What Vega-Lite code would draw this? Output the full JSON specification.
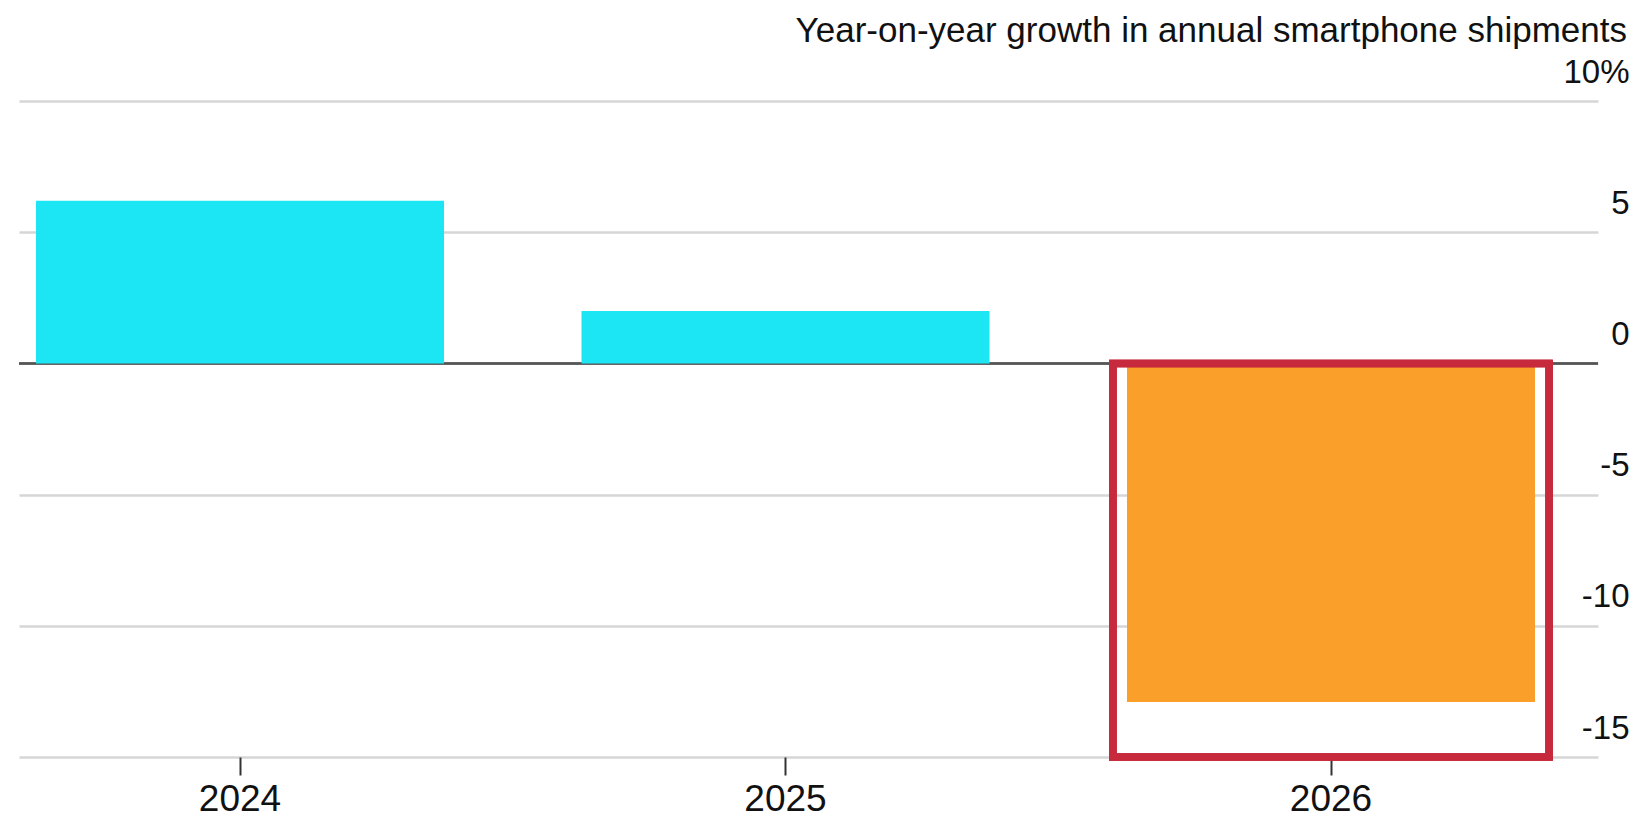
{
  "$schema": "https://vega.github.io/schema/vega-lite/v6.json",
  "width": 1579,
  "height": 656,
  "autosize": {"type": "none"},
  "padding": {"left": 19, "top": 101, "right": 54, "bottom": 62},
  "background": "white",
  "config": {"font": "Liberation Sans", "view": {"stroke": null}},
  "title": {
    "text": "Year-on-year growth in annual smartphone shipments",
    "anchor": "end",
    "frame": "group",
    "orient": "top",
    "fontSize": 35,
    "fontWeight": "normal",
    "color": "#111111",
    "baseline": "alphabetic",
    "dx": 29,
    "dy": 35,
    "offset": 14
  },
  "data": {
    "values": [
      {"year": "2024", "growth": 6.2},
      {"year": "2025", "growth": 2.0},
      {"year": "2026", "growth": -12.9}
    ]
  },
  "layer": [
    {
      "mark": {"type": "rule", "color": "#555555", "strokeWidth": 2},
      "encoding": {
        "y": {
          "datum": 0,
          "type": "quantitative",
          "scale": {"domain": [-15, 10], "nice": false},
          "axis": {
            "orient": "right",
            "title": null,
            "values": [-15, -10, -5, 0, 5, 10],
            "grid": true,
            "gridColor": "#d6d6d6",
            "gridWidth": 2.5,
            "domain": false,
            "ticks": false,
            "tickSize": 0,
            "labelAlign": "right",
            "labelBaseline": "alphabetic",
            "labelOffset": -19,
            "labelPadding": 31,
            "labelFontSize": 33,
            "labelColor": "#111111",
            "labelExpr": "datum.value == 10 ? '10%' : toString(datum.value) + '\u00a0\u00a0\u00a0'"
          }
        }
      }
    },
    {
      "mark": {"type": "bar"},
      "encoding": {
        "x": {
          "field": "year",
          "type": "nominal",
          "sort": null,
          "scale": {"type": "band", "paddingInner": 0.252, "paddingOuter": 0.0733, "align": 0.2125},
          "axis": {
            "orient": "bottom",
            "title": null,
            "domain": false,
            "grid": false,
            "ticks": true,
            "tickColor": "#333333",
            "tickWidth": 2,
            "tickSize": 18,
            "labelAngle": 0,
            "labelFontSize": 37,
            "labelPadding": 6,
            "labelColor": "#111111"
          }
        },
        "y": {"field": "growth", "type": "quantitative"},
        "color": {
          "condition": {"test": "datum.growth < 0", "value": "#f99f2a"},
          "value": "#1ce6f4"
        }
      }
    },
    {
      "mark": {"type": "bar", "fillOpacity": 0, "stroke": "#c62a3c", "strokeWidth": 7.5, "width": {"band": 1.069}},
      "encoding": {
        "x": {"datum": "2026", "type": "nominal"},
        "y": {"datum": 0, "type": "quantitative"},
        "y2": {"datum": -15}
      }
    }
  ]
}
